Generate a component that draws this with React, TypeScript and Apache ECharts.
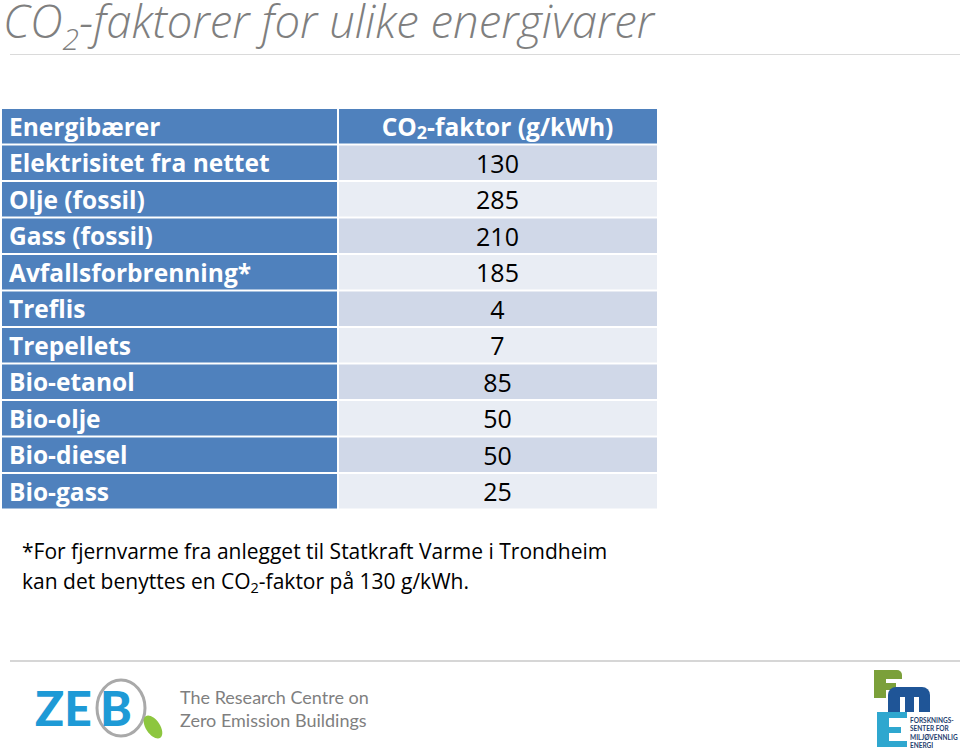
import React, { useEffect, useRef } from "react";
import * as echarts from "echarts";

const titleParts = ["CO", "2", "-faktorer for ulike energivarer"];
const headerLeft = "Energibærer";
const headerRightParts = ["CO", "2", "-faktor (g/kWh)"];
const carriers = [
  "Elektrisitet fra nettet",
  "Olje (fossil)",
  "Gass (fossil)",
  "Avfallsforbrenning*",
  "Treflis",
  "Trepellets",
  "Bio-etanol",
  "Bio-olje",
  "Bio-diesel",
  "Bio-gass",
];
const factors = [130, 285, 210, 185, 4, 7, 85, 50, 50, 25];
const footLine1 = "*For fjernvarme fra anlegget til Statkraft Varme i Trondheim";
const footLine2Parts = ["kan det benyttes en CO", "2", "-faktor på 130 g/kWh."];
const zebText = ["The Research Centre on", "Zero Emission Buildings"];
const fmeText = ["FORSKNINGS-", "SENTER FOR", "MILJØVENNLIG", "ENERGI"];

const FONT = "'Open Sans', Lato, sans-serif";
const BLUE = "#4F81BD";
const LIGHT1 = "#D0D8E8";
const LIGHT2 = "#E9EDF4";

let ctx: CanvasRenderingContext2D | null = null;
function measure(text: string, size: number, weight = "normal", style = "normal") {
  if (!ctx) ctx = document.createElement("canvas").getContext("2d");
  if (!ctx) return text.length * size * 0.55;
  ctx.font = `${style} ${weight} ${size}px 'Open Sans'`;
  return ctx.measureText(text).width;
}

function subText(
  parts: string[],
  x: number,
  y: number,
  size: number,
  subSize: number,
  subShift: number,
  fill: string,
  weight = "normal",
  fontStyle = "normal",
  lineHeight?: number
) {
  const els: any[] = [];
  let cx = x;
  parts.forEach((p, i) => {
    const isSub = i % 2 === 1;
    const s = isSub ? subSize : size;
    const style: any = {
      text: p,
      fill,
      fontSize: s,
      fontFamily: FONT,
      fontWeight: weight,
      fontStyle,
      align: "left",
      verticalAlign: "middle",
    };
    if (lineHeight) style.lineHeight = isSub ? Math.min(lineHeight, s) : lineHeight;
    els.push({ type: "text", x: cx, y: isSub ? y + subShift : y, style });
    cx += measure(p, s, weight, fontStyle);
  });
  return { els, width: cx - x };
}

export default function App() {
  const ref = useRef<HTMLDivElement>(null);
  useEffect(() => {
    if (!ref.current) return;
    const chart = echarts.init(ref.current, null, { renderer: "svg" });
    const rows = [{ header: true }, ...carriers.map((c, i) => ({ header: false, label: c, value: factors[i] }))];
    const yCats = [headerLeft, ...carriers];
    const splitRatio = 0.513;
    const CELL = 24.5;

    const title = subText(titleParts, 3, 20, 45.5, 30, 18, "#7F7F7F", "300", "italic", 34);
    const foot2 = subText(footLine2Parts, 22, 581, 21, 14.5, 6, "#000000");

    const option: any = {
      animation: false,
      backgroundColor: "#ffffff",
      grid: { left: 2, top: 108, width: 655, height: 401.5 },
      xAxis: { type: "value", min: 0, max: 1, show: false },
      yAxis: { type: "category", data: yCats, inverse: true, show: false },
      series: [
        {
          type: "custom",
          data: rows.map((r, i) => [0, i]),
          encode: { x: 0, y: 1 },
          renderItem: (params: any, api: any) => {
            const idx = params.dataIndex;
            const row: any = rows[idx];
            const cs = params.coordSys;
            const c = api.coord([0, api.value(1)]);
            const bh = api.size([0, 1])[1];
            const top = c[1] - bh / 2;
            const x0 = cs.x;
            const w = cs.width;
            const split = x0 + w * splitRatio;
            const cy = c[1];
            const children: any[] = [];
            const gap = 1;
            const valueFill = row.header ? BLUE : idx % 2 === 1 ? LIGHT1 : LIGHT2;
            children.push({
              type: "rect",
              shape: { x: x0, y: top + gap, width: split - x0 - gap, height: bh - 2 * gap },
              style: { fill: BLUE },
            });
            children.push({
              type: "rect",
              shape: { x: split + gap, y: top + gap, width: x0 + w - split - gap, height: bh - 2 * gap },
              style: { fill: valueFill },
            });
            const colCenter = (split + x0 + w) / 2;
            if (row.header) {
              children.push({
                type: "text",
                x: x0 + 7,
                y: cy,
                style: {
                  text: headerLeft,
                  fill: "#fff",
                  fontSize: CELL,
                  fontWeight: "bold",
                  fontFamily: FONT,
                  align: "left",
                  verticalAlign: "middle",
                },
              });
              const subS = 18;
              const totalW =
                measure(headerRightParts[0], CELL, "bold") +
                measure(headerRightParts[1], subS, "bold") +
                measure(headerRightParts[2], CELL, "bold");
              const st = subText(headerRightParts, colCenter - totalW / 2, cy, CELL, subS, 6, "#fff", "bold");
              children.push(...st.els);
            } else {
              children.push({
                type: "text",
                x: x0 + 7,
                y: cy,
                style: {
                  text: row.label,
                  fill: "#fff",
                  fontSize: CELL,
                  fontWeight: "bold",
                  fontFamily: FONT,
                  align: "left",
                  verticalAlign: "middle",
                },
              });
              children.push({
                type: "text",
                x: colCenter,
                y: cy,
                style: {
                  text: String(row.value),
                  fill: "#000",
                  fontSize: 25,
                  fontFamily: FONT,
                  align: "center",
                  verticalAlign: "middle",
                },
              });
            }
            return { type: "group", children };
          },
        },
      ],
      graphic: [
        ...title.els,
        {
          type: "line",
          shape: { x1: 10, y1: 54.5, x2: 960, y2: 54.5 },
          style: { stroke: "#DADADA", lineWidth: 1 },
        },
        {
          type: "text",
          x: 22,
          y: 551,
          style: {
            text: footLine1,
            fill: "#000",
            fontSize: 21,
            fontFamily: FONT,
            verticalAlign: "middle",
          },
        },
        ...foot2.els,
        {
          type: "line",
          shape: { x1: 10, y1: 661, x2: 960, y2: 661 },
          style: { stroke: "#C8C8C8", lineWidth: 1.5 },
        },
        // ZEB logo
        {
          type: "text",
          x: 35,
          y: 707,
          style: {
            text: "ZE",
            fontSize: 48,
            fontWeight: 900,
            fontFamily: "Lato, sans-serif",
            verticalAlign: "middle",
            fill: "#1E9AD6",
          },
        },
        {
          type: "ellipse",
          shape: { cx: 121, cy: 708, rx: 24, ry: 28 },
          style: { fill: "none", stroke: "#A9A9A9", lineWidth: 3 },
        },
        {
          type: "text",
          x: 100,
          y: 707,
          style: {
            text: "B",
            fontSize: 48,
            fontWeight: 900,
            fontFamily: "Lato, sans-serif",
            verticalAlign: "middle",
            fill: "#1E9AD6",
          },
        },
        {
          type: "ellipse",
          shape: { cx: 0, cy: 0, rx: 7, ry: 13 },
          x: 153,
          y: 727,
          rotation: 0.6,
          style: { fill: "#8DC63F" },
        },
        {
          type: "text",
          x: 180,
          y: 697,
          style: { text: zebText[0], fill: "#7F7F7F", fontSize: 18, fontFamily: "Lato, sans-serif", verticalAlign: "middle" },
        },
        {
          type: "text",
          x: 180,
          y: 720,
          style: { text: zebText[1], fill: "#7F7F7F", fontSize: 18, fontFamily: "Lato, sans-serif", verticalAlign: "middle" },
        },
        // FME logo
        { type: "rect", shape: { x: 874, y: 670, width: 12, height: 28 }, style: { fill: "#7BA03A" } },
        { type: "rect", shape: { x: 874, y: 670, width: 28, height: 9, r: [0, 5, 0, 0] }, style: { fill: "#7BA03A" } },
        { type: "rect", shape: { x: 874, y: 683, width: 22, height: 7 }, style: { fill: "#7BA03A" } },
        { type: "rect", shape: { x: 888, y: 687, width: 42, height: 25, r: [8, 8, 0, 0] }, style: { fill: "#1F5597" } },
        { type: "rect", shape: { x: 900, y: 697, width: 5, height: 15 }, style: { fill: "#ffffff" } },
        { type: "rect", shape: { x: 914, y: 697, width: 5, height: 15 }, style: { fill: "#ffffff" } },
        { type: "rect", shape: { x: 877, y: 712, width: 12, height: 35 }, style: { fill: "#2FA7CF" } },
        { type: "rect", shape: { x: 877, y: 712, width: 30, height: 6 }, style: { fill: "#2FA7CF" } },
        { type: "rect", shape: { x: 877, y: 727, width: 24, height: 6 }, style: { fill: "#2FA7CF" } },
        { type: "rect", shape: { x: 877, y: 741, width: 30, height: 6 }, style: { fill: "#2FA7CF" } },
        ...fmeText.map((t, i) => ({
          type: "text",
          x: 910,
          y: 720 + i * 8.5,
          style: { text: t, fill: "#1F3F6F", fontSize: 6.5, fontWeight: "bold", fontFamily: "Lato, sans-serif", verticalAlign: "middle" },
        })),
      ],
    };
    chart.setOption(option);
    return () => chart.dispose();
  }, []);
  return (
    <div
      ref={ref}
      style={{ position: "fixed", left: 0, top: 0, width: 960, height: 749, background: "#fff" }}
    />
  );
}
